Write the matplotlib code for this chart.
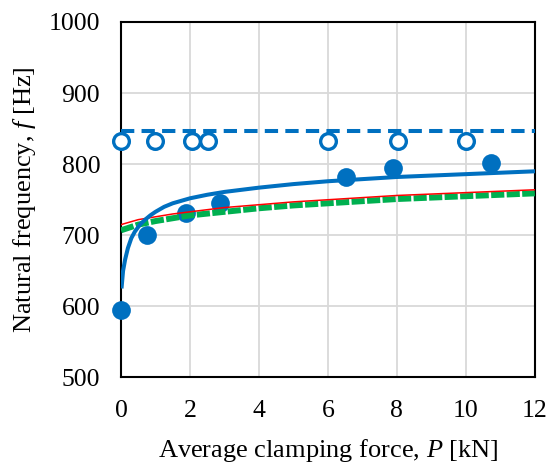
import matplotlib.pyplot as plt

plt.rcParams['font.family'] = 'Liberation Serif'
plt.rcParams['mathtext.fontset'] = 'custom'
plt.rcParams['mathtext.it'] = 'Liberation Serif:italic'
plt.rcParams['mathtext.rm'] = 'Liberation Serif'

# measured points
p_meas = [0, 0.75, 1.88, 2.87, 6.51, 7.89, 10.72]
f_meas = [595, 701, 732, 746, 782, 795, 801]

p_open = [0, 0.99, 2.05, 2.52, 5.99, 8.03, 10.0]
f_open = [832, 832, 832, 832, 832, 832, 832]

# dashed reference level
p_ref = [0, 12]
f_ref = [846, 846]

# fitted curve (blue)
p_fit = [0.02, 0.06, 0.12, 0.2, 0.3, 0.4, 0.55, 0.7, 0.85, 1.0, 1.25, 1.5, 2,
         2.5, 3, 4, 5, 6, 7, 8, 9, 10, 11, 12]
f_fit = [628, 650, 666, 682, 696, 705, 715, 722, 728, 733, 740, 745, 752,
         757, 761, 767, 772, 776, 779, 782, 784, 786, 788, 790]

# model curves (red and green)
p_mod = [0, 0.5, 1, 1.5, 2, 3, 4, 5, 6, 7, 8, 9, 10, 11, 12]
f_red = [715, 722, 726, 730, 733, 739, 743, 747, 750, 753, 756, 758, 760, 762, 764]
f_green = [707, 715, 720, 724, 728, 733, 738, 742, 745, 748, 751, 753, 755, 757, 759]

blue = '#0070c0'

fig = plt.figure(figsize=(5.48, 4.63), dpi=100)
ax = fig.add_axes([0.2208, 0.1847, 0.976 - 0.2208, 0.9525 - 0.1847])

ax.plot(p_open, f_open, 'o', ms=11.3, mfc='white', mec=blue, mew=2.4, clip_on=False, zorder=3)
ax.plot(p_meas, f_meas, 'o', ms=13.5, color=blue, mew=0, clip_on=False, zorder=3)

ax.plot(p_ref, f_ref, color=blue, lw=2.9, dashes=(3.3, 1.8), zorder=4)
ax.plot(p_mod, f_green, color='#00b050', lw=4.3, dashes=(2.2, 0.4), zorder=4)
ax.plot(p_mod, f_red, color='#ff0000', lw=1.1, zorder=5)
ax.plot(p_fit, f_fit, color=blue, lw=2.9, zorder=6)

ax.set_xlim(0, 12)
ax.set_ylim(500, 1000)
ax.set_xticks(range(0, 13, 2))
ax.set_yticks(range(500, 1001, 100))
ax.grid(True, color='#d9d9d9', lw=1.3)
ax.set_axisbelow(True)
for s in ax.spines.values():
    s.set_linewidth(1.5)
    s.set_color('black')
ax.tick_params(length=0, labelsize=18.5)
ax.tick_params(axis='x', pad=16)
ax.tick_params(axis='y', pad=15)

ax.set_xlabel('Average clamping force, $P$ [kN]', fontsize=19, labelpad=11)
ax.set_ylabel('Natural frequency, $f$ [Hz]', fontsize=19, labelpad=8)

fig.savefig('out.png', dpi=100)
